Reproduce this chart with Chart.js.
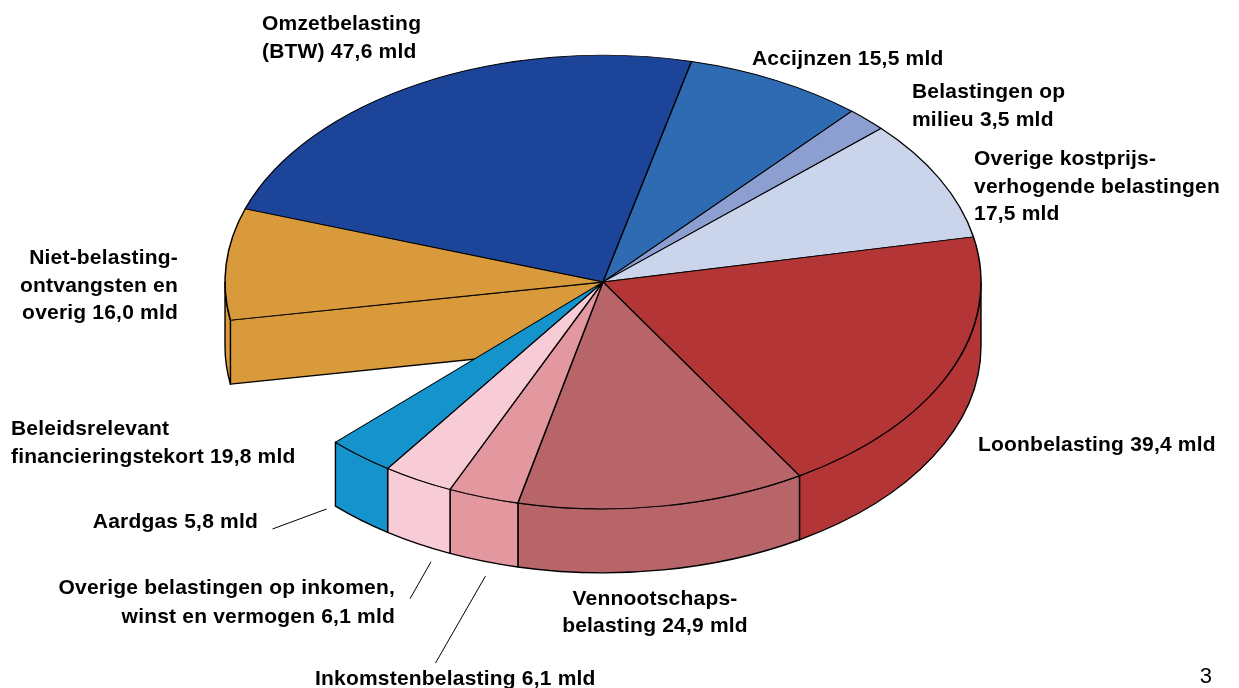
<!DOCTYPE html>
<html>
<head>
<meta charset="utf-8">
<title>Belastingen</title>
<script src="https://cdn.jsdelivr.net/npm/chart.js@4/dist/chart.umd.min.js"></script>
<style>
  html, body { margin: 0; padding: 0; background: #fff; }
  canvas { display: block; }
</style>
</head>
<body>
<canvas id="pie" width="1239" height="688"></canvas>
<script>
// waarden in mld, kloksgewijs vanaf omzetbelasting
const categories = ['Omzetbelasting', 'Accijnzen', 'Belastingen op milieu', 'Overige kostprijsverhogende belastingen',
  'Loonbelasting', 'Vennootschapsbelasting', 'Inkomstenbelasting', 'Overige belastingen op inkomen, winst en vermogen',
  'Aardgas', 'Beleidsrelevant financieringstekort', 'Niet-belastingontvangsten en overig'];
const values = [47.6, 15.5, 3.5, 17.5, 39.4, 24.9, 6.1, 6.1, 5.8, 19.8, 16.0];
const colors = ['#1c4499', '#2f6bb3', '#8c9fd0', '#cad5ec', '#b43535', '#b8656a', '#e398a0', '#f7ccd6', '#1493cc', 'rgba(0,0,0,0)', '#d99a3b'];
const borders = [1.5, 1.5, 1.5, 1.5, 1.5, 1.5, 1.5, 1.5, 1.5, 0, 1.5];

// het tekort is een lege punt, de gele punt heeft daardoor een zichtbare snijkant
const gapIndex = 9;
const cutIndex = 10;

const squash = 0.6;   // hoogte / breedte van de ellips
const depth = 64;     // dikte van de taart

const labelFont = 'bold 21px "Liberation Sans", Arial, sans-serif';
const textLabels = [
  { lines: ['Omzetbelasting', '(BTW) 47,6 mld'], x: 262, y: 30, align: 'left', lh: 28 },
  { lines: ['Accijnzen 15,5 mld'], x: 752, y: 65, align: 'left', lh: 28 },
  { lines: ['Belastingen op', 'milieu 3,5 mld'], x: 912, y: 98, align: 'left', lh: 28 },
  { lines: ['Overige kostprijs-', 'verhogende belastingen', '17,5 mld'], x: 974, y: 165, align: 'left', lh: 27.5 },
  { lines: ['Loonbelasting 39,4 mld'], x: 978, y: 451, align: 'left', lh: 28 },
  { lines: ['Vennootschaps-', 'belasting 24,9 mld'], x: 655, y: 605, align: 'center', lh: 27 },
  { lines: ['Inkomstenbelasting 6,1 mld'], x: 315, y: 685, align: 'left', lh: 28 },
  { lines: ['Overige belastingen op inkomen,', 'winst en vermogen 6,1 mld'], x: 395, y: 594, align: 'right', lh: 28.5 },
  { lines: ['Aardgas 5,8 mld'], x: 258, y: 528, align: 'right', lh: 28 },
  { lines: ['Beleidsrelevant', 'financieringstekort 19,8 mld'], x: 11, y: 435, align: 'left', lh: 28 },
  { lines: ['Niet-belasting-', 'ontvangsten en', 'overig 16,0 mld'], x: 178, y: 264, align: 'right', lh: 27.5 }
];

// verwijslijntjes: vanaf het midden van de onderrand van een punt
const leaders = [
  { slice: 6, from: [2, 15], to: [-48, 102] },
  { slice: 7, from: [13, 18], to: [-8, 55] },
  { slice: 8, from: [-34, -11], to: [-88, 9] }
];

const pie3d = {
  id: 'pie3d',
  beforeDatasetDraw(chart, args) {
    const ctx = chart.ctx;
    const arcs = args.meta.data;
    const cx = arcs[0].x, cy = arcs[0].y, r = arcs[0].outerRadius;

    ctx.save();
    ctx.lineWidth = 1.4;
    ctx.strokeStyle = '#000';
    ctx.lineJoin = 'round';

    // snijkant van de gele punt
    const a0 = arcs[cutIndex].startAngle;
    const ex = cx + r * Math.cos(a0), ey = cy + r * squash * Math.sin(a0);
    ctx.fillStyle = colors[cutIndex];
    ctx.beginPath();
    ctx.moveTo(cx, cy);
    ctx.lineTo(ex, ey);
    ctx.lineTo(ex, ey + depth);
    ctx.lineTo(cx, cy + depth);
    ctx.closePath();
    ctx.fill();
    ctx.stroke();

    // buitenwand, alleen de onderste helft is zichtbaar
    arcs.forEach((arc, i) => {
      if (i === gapIndex) return;
      const start = Math.max(arc.startAngle, 0);
      const end = Math.min(arc.endAngle, Math.PI);
      if (start >= end) return;
      ctx.fillStyle = colors[i];
      ctx.beginPath();
      ctx.ellipse(cx, cy, r, r * squash, 0, start, end);
      ctx.ellipse(cx, cy + depth, r, r * squash, 0, end, start, true);
      ctx.closePath();
      ctx.fill();
      ctx.stroke();
    });
    ctx.restore();

    // bovenvlak: de bogen van Chart.js zelf, platgedrukt tot ellips
    ctx.save();
    ctx.translate(cx, cy);
    ctx.scale(1, squash);
    ctx.translate(-cx, -cy);
  },
  afterDatasetDraw(chart) {
    chart.ctx.restore();
  },
  afterDraw(chart) {
    const ctx = chart.ctx;
    const arcs = chart.getDatasetMeta(0).data;
    ctx.save();

    ctx.strokeStyle = '#000';
    ctx.lineWidth = 1;
    leaders.forEach(l => {
      const arc = arcs[l.slice];
      const mid = (arc.startAngle + arc.endAngle) / 2;
      const px = arc.x + arc.outerRadius * Math.cos(mid);
      const py = arc.y + arc.outerRadius * squash * Math.sin(mid) + depth;
      ctx.beginPath();
      ctx.moveTo(px + l.from[0], py + l.from[1]);
      ctx.lineTo(px + l.to[0], py + l.to[1]);
      ctx.stroke();
    });

    ctx.fillStyle = '#000';
    ctx.font = labelFont;
    ctx.letterSpacing = '0.2px';
    ctx.textBaseline = 'alphabetic';
    textLabels.forEach(t => {
      ctx.textAlign = t.align;
      t.lines.forEach((line, i) => ctx.fillText(line, t.x, t.y + i * t.lh));
    });

    // paginanummer
    ctx.letterSpacing = '0px';
    ctx.font = '22px "Liberation Sans", Arial, sans-serif';
    ctx.textAlign = 'right';
    ctx.fillText('3', 1212, 683);
    ctx.restore();
  }
};

new Chart(document.getElementById('pie').getContext('2d'), {
  type: 'pie',
  data: {
    labels: categories,
    datasets: [{
      data: values,
      backgroundColor: colors,
      borderColor: '#000',
      borderWidth: borders,
      clip: false
    }]
  },
  options: {
    responsive: false,
    animation: false,
    rotation: -71.2,
    radius: 378,
    layout: { padding: { right: 33, bottom: 124 } },
    plugins: { legend: { display: false }, tooltip: { enabled: false } }
  },
  plugins: [pie3d]
});
</script>
</body>
</html>
